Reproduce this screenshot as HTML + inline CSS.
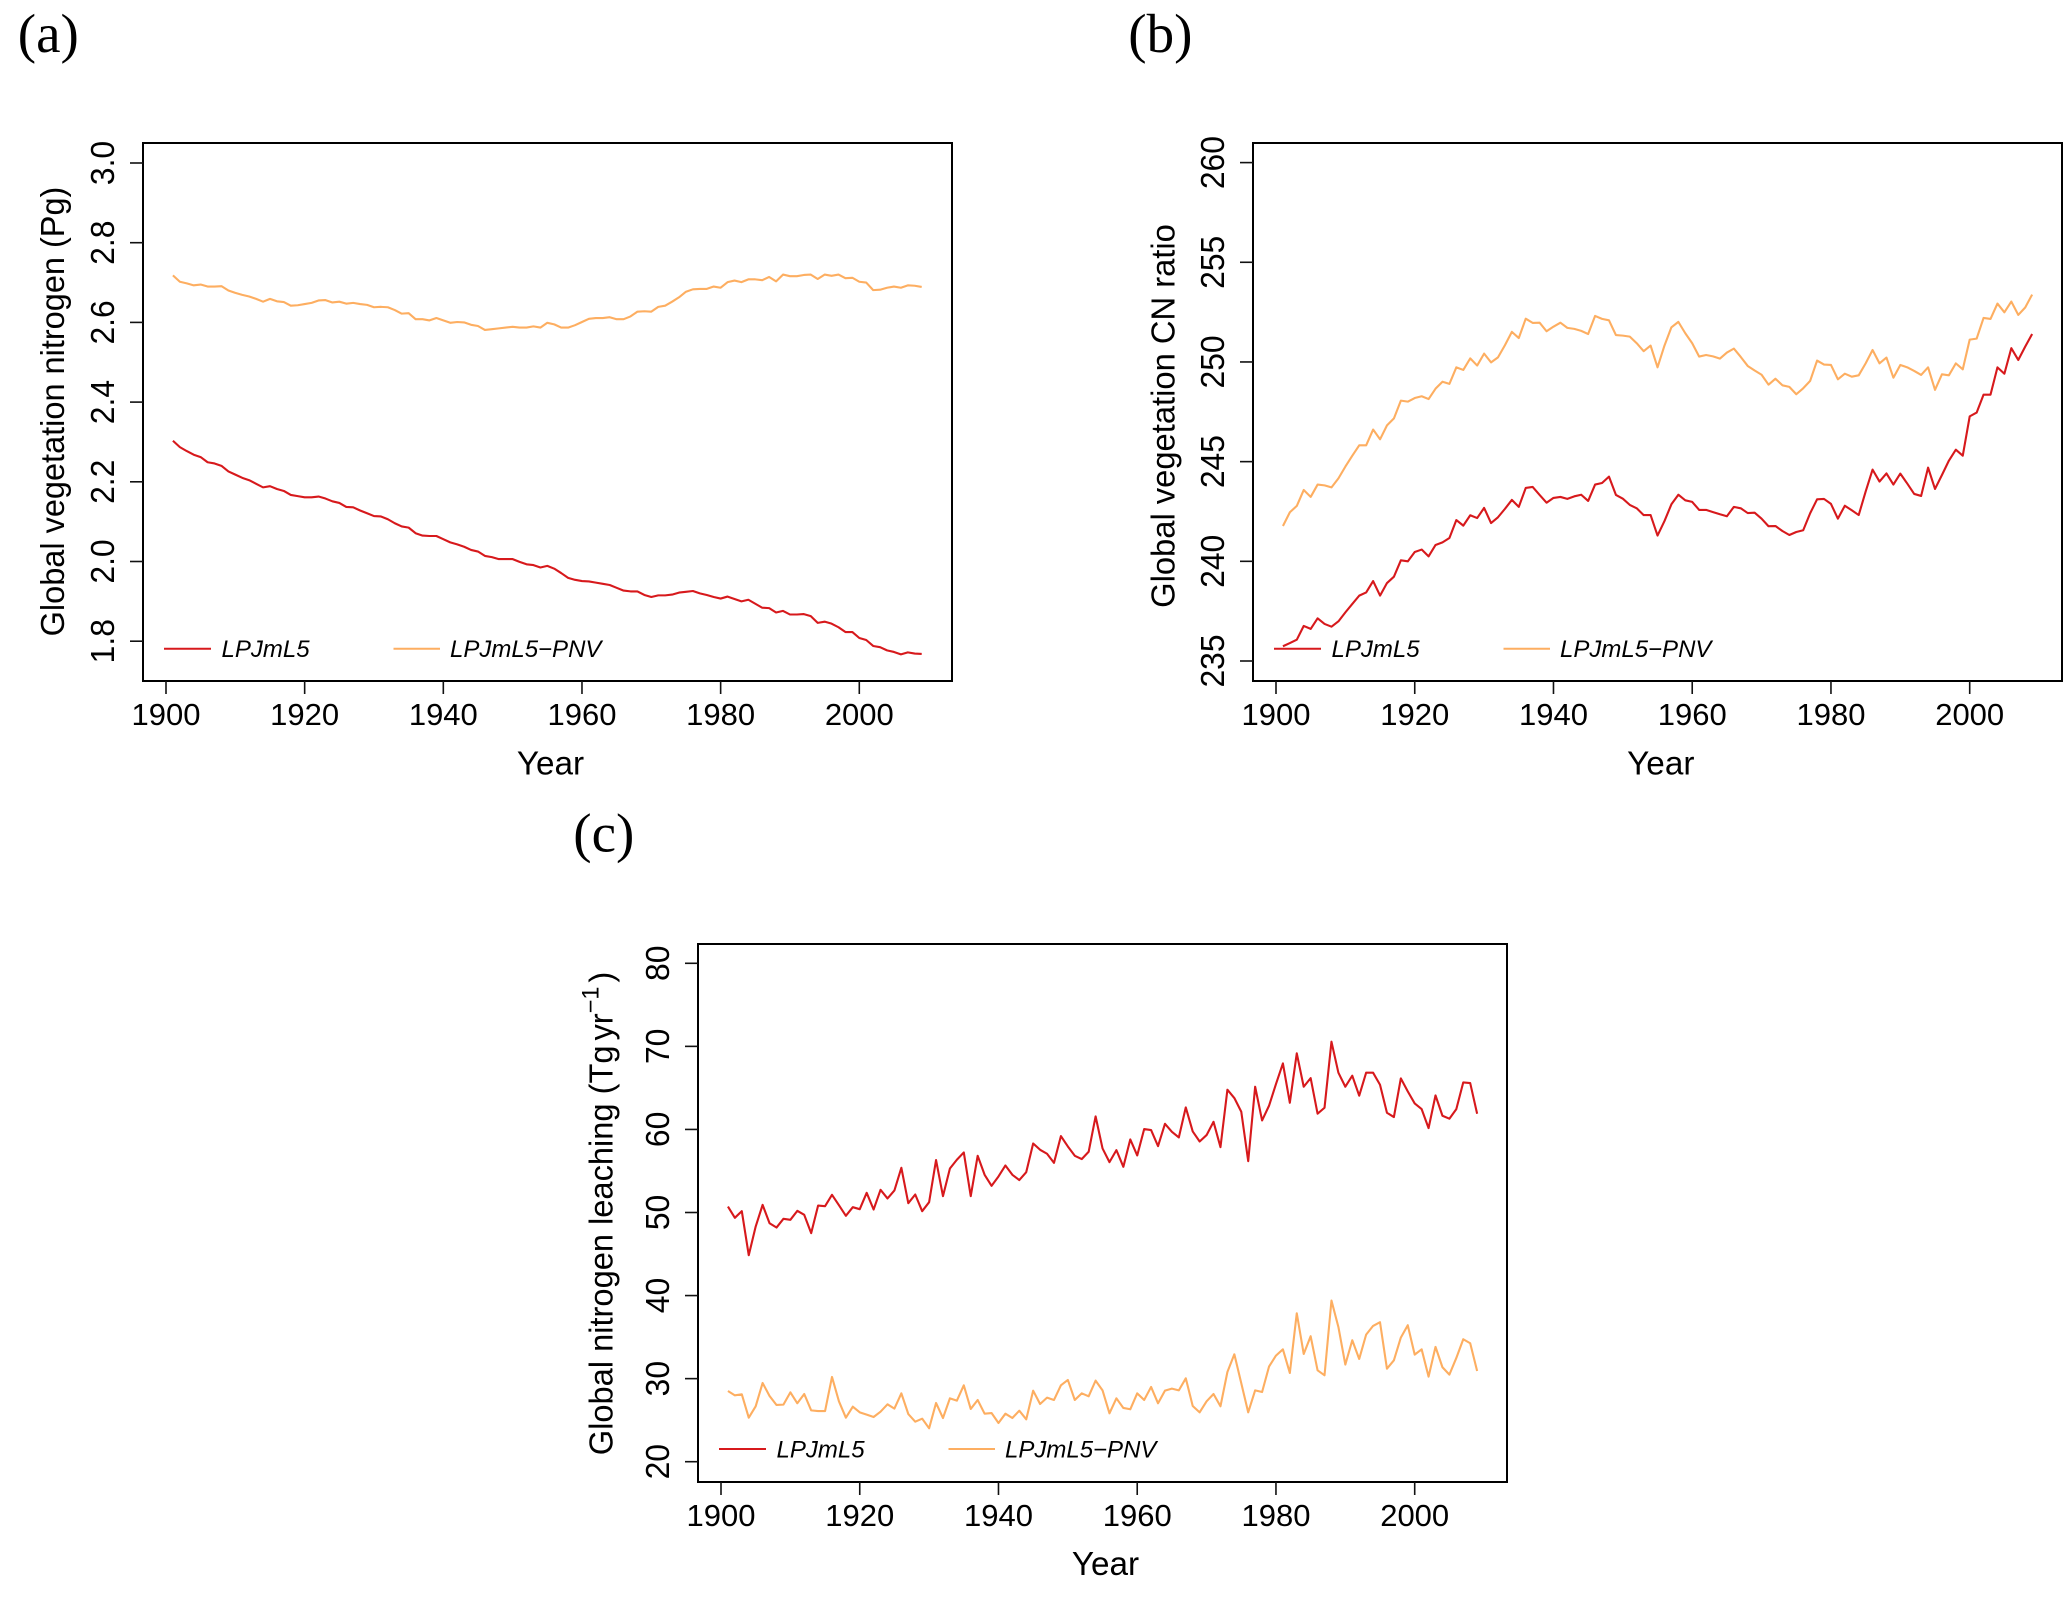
<!DOCTYPE html>
<html lang="en">
<head>
<meta charset="utf-8">
<title>Global vegetation nitrogen, CN ratio and nitrogen leaching</title>
<style>
  html, body { margin: 0; padding: 0; background: #ffffff; }
  svg { display: block; }
  text { font-family: "Liberation Sans", Arial, sans-serif; fill: #000000; }
  .tick-label { font-size: 31px; }
  .y-tick-label { font-size: 33.5px; }
  .axis-title { font-size: 33.3px; }
  .legend-text { font-size: 24px; font-style: italic; }
  .panel-label { font-family: "Liberation Serif", "Times New Roman", serif; font-size: 55px; }
  .frame { fill: none; stroke: #000000; stroke-width: 2; }
</style>
</head>
<body>
<svg id="figure" xmlns="http://www.w3.org/2000/svg" width="2066" height="1598" viewBox="0 0 2066 1598">
  <rect x="0" y="0" width="2066" height="1598" fill="#ffffff"/>

  <text class="panel-label" x="17.8" y="52">(a)</text>
  <text class="panel-label" x="1128.3" y="52">(b)</text>
  <text class="panel-label" x="573.3" y="851.5">(c)</text>

  <g id="panel-a">
    <rect class="frame" x="143" y="143" width="809" height="538"/>
    <text class="axis-title" x="550.5" y="774.3" text-anchor="middle">Year</text>
    <text class="axis-title" text-anchor="middle" transform="translate(64 411.5) rotate(-90) scale(0.976 1)">Global vegetation nitrogen (Pg)</text>
    <line x1="164" x2="211" y1="648.7" y2="648.7" stroke="#d7191c" stroke-width="2"/>
    <text class="legend-text" x="221.5" y="657">LPJmL5</text>
    <line x1="393.5" x2="440" y1="648.7" y2="648.7" stroke="#fdae61" stroke-width="2"/>
    <text class="legend-text" x="450" y="657">LPJmL5−PNV</text>
  </g>

  <g id="panel-b">
    <rect class="frame" x="1253" y="143" width="809" height="538"/>
    <text class="axis-title" x="1660.8" y="774.3" text-anchor="middle">Year</text>
    <text class="axis-title" text-anchor="middle" transform="translate(1174.3 416) rotate(-90) scale(0.983 1)">Global vegetation CN ratio</text>
    <line x1="1274" x2="1321" y1="648.7" y2="648.7" stroke="#d7191c" stroke-width="2"/>
    <text class="legend-text" x="1331.5" y="657">LPJmL5</text>
    <line x1="1503.5" x2="1550" y1="648.7" y2="648.7" stroke="#fdae61" stroke-width="2"/>
    <text class="legend-text" x="1560" y="657">LPJmL5−PNV</text>
  </g>

  <g id="panel-c">
    <rect class="frame" x="698" y="944" width="809" height="538"/>
    <text class="axis-title" x="1105.5" y="1575" text-anchor="middle">Year</text>
    <text class="axis-title" text-anchor="middle" transform="translate(612.7 1213.5) rotate(-90) scale(0.98 1)">Global nitrogen leaching (Tg<tspan dx="5">yr</tspan><tspan font-size="24" dy="-14">−1</tspan><tspan dy="14" dx="4">)</tspan></text>
    <line x1="719" x2="766" y1="1449" y2="1449" stroke="#d7191c" stroke-width="2"/>
    <text class="legend-text" x="776.5" y="1457.5">LPJmL5</text>
    <line x1="948.5" x2="995" y1="1449" y2="1449" stroke="#fdae61" stroke-width="2"/>
    <text class="legend-text" x="1005" y="1457.5">LPJmL5−PNV</text>
  </g>
</svg>

<script>
const years = [
  1901,1902,1903,1904,1905,1906,1907,1908,1909,1910,
  1911,1912,1913,1914,1915,1916,1917,1918,1919,1920,
  1921,1922,1923,1924,1925,1926,1927,1928,1929,1930,
  1931,1932,1933,1934,1935,1936,1937,1938,1939,1940,
  1941,1942,1943,1944,1945,1946,1947,1948,1949,1950,
  1951,1952,1953,1954,1955,1956,1957,1958,1959,1960,
  1961,1962,1963,1964,1965,1966,1967,1968,1969,1970,
  1971,1972,1973,1974,1975,1976,1977,1978,1979,1980,
  1981,1982,1983,1984,1985,1986,1987,1988,1989,1990,
  1991,1992,1993,1994,1995,1996,1997,1998,1999,2000,
  2001,2002,2003,2004,2005,2006,2007,2008,2009
];
const xTicks = [1900, 1920, 1940, 1960, 1980, 2000];

const nitrogenTicks = ["1.8", "2.0", "2.2", "2.4", "2.6", "2.8", "3.0"];
const nitrogenLpjml5 = [
  2.303,2.287,2.277,2.268,2.262,2.249,2.246,2.240,2.226,2.218,
  2.210,2.204,2.195,2.186,2.189,2.182,2.177,2.167,2.164,2.161,
  2.161,2.163,2.158,2.151,2.147,2.137,2.136,2.128,2.121,2.114,
  2.113,2.106,2.096,2.088,2.085,2.071,2.065,2.064,2.064,2.056,
  2.048,2.043,2.037,2.029,2.025,2.014,2.011,2.006,2.006,2.006,
  1.999,1.993,1.991,1.985,1.989,1.982,1.971,1.959,1.954,1.951,
  1.950,1.947,1.944,1.941,1.934,1.927,1.925,1.925,1.916,1.911,
  1.915,1.915,1.917,1.922,1.924,1.926,1.920,1.916,1.911,1.907,
  1.912,1.906,1.900,1.904,1.894,1.884,1.883,1.872,1.876,1.867,
  1.867,1.868,1.863,1.846,1.849,1.844,1.835,1.823,1.823,1.808,
  1.803,1.788,1.785,1.777,1.773,1.767,1.772,1.769,1.768
];
const nitrogenPnv = [
  2.718,2.702,2.698,2.693,2.695,2.690,2.690,2.691,2.680,2.674,
  2.669,2.665,2.659,2.652,2.659,2.653,2.651,2.642,2.643,2.646,
  2.649,2.655,2.656,2.650,2.652,2.647,2.649,2.646,2.644,2.638,
  2.639,2.638,2.631,2.622,2.623,2.608,2.608,2.605,2.611,2.605,
  2.599,2.601,2.600,2.594,2.591,2.581,2.583,2.585,2.587,2.589,
  2.587,2.587,2.590,2.587,2.599,2.595,2.587,2.587,2.593,2.601,
  2.609,2.611,2.611,2.613,2.608,2.608,2.615,2.627,2.628,2.627,
  2.639,2.642,2.652,2.663,2.677,2.683,2.684,2.684,2.690,2.687,
  2.701,2.705,2.701,2.708,2.708,2.706,2.714,2.703,2.720,2.716,
  2.716,2.719,2.720,2.709,2.720,2.717,2.720,2.711,2.712,2.702,
  2.700,2.681,2.682,2.687,2.690,2.687,2.693,2.692,2.689
];

const cnTicks = ["235", "240", "245", "250", "255", "260"];
const cnLpjml5 = [
  235.74,235.90,236.07,236.76,236.61,237.14,236.86,236.72,236.99,237.44,
  237.86,238.28,238.44,239.01,238.28,238.91,239.23,240.05,240.00,240.47,
  240.59,240.25,240.82,240.95,241.17,242.07,241.79,242.31,242.17,242.68,
  241.92,242.21,242.63,243.08,242.73,243.68,243.73,243.33,242.94,243.18,
  243.23,243.13,243.26,243.34,243.03,243.85,243.93,244.25,243.33,243.14,
  242.83,242.66,242.32,242.32,241.29,242.02,242.86,243.34,243.06,242.98,
  242.58,242.58,242.47,242.36,242.26,242.73,242.66,242.42,242.44,242.14,
  241.76,241.77,241.52,241.32,241.47,241.56,242.41,243.11,243.13,242.88,
  242.14,242.79,242.56,242.32,243.50,244.60,244.00,244.41,243.85,244.40,
  243.90,243.38,243.28,244.70,243.63,244.33,245.05,245.60,245.30,247.27,
  247.46,248.36,248.36,249.73,249.41,250.69,250.10,250.77,251.40
];
const cnPnv = [
  241.77,242.46,242.78,243.58,243.23,243.85,243.81,243.71,244.16,244.75,
  245.30,245.82,245.82,246.61,246.12,246.82,247.17,248.06,248.01,248.19,
  248.28,248.14,248.66,249.01,248.90,249.73,249.60,250.18,249.82,250.42,
  249.98,250.23,250.84,251.51,251.20,252.17,251.96,251.97,251.54,251.77,
  251.97,251.71,251.66,251.56,251.40,252.31,252.16,252.09,251.35,251.32,
  251.27,250.94,250.54,250.82,249.73,250.82,251.74,252.01,251.44,250.94,
  250.27,250.35,250.28,250.17,250.47,250.67,250.25,249.80,249.57,249.36,
  248.86,249.16,248.83,248.75,248.38,248.68,249.05,250.07,249.87,249.85,
  249.13,249.41,249.26,249.33,249.93,250.60,249.93,250.22,249.21,249.85,
  249.73,249.55,249.35,249.73,248.60,249.38,249.33,249.93,249.63,251.12,
  251.17,252.21,252.16,252.93,252.49,253.03,252.36,252.73,253.38
];

const leachingTicks = ["20", "30", "40", "50", "60", "70", "80"];
const leachingLpjml5 = [
  50.72,49.36,50.16,44.86,48.31,50.92,48.71,48.19,49.24,49.12,
  50.20,49.72,47.51,50.84,50.76,52.13,50.88,49.60,50.64,50.40,
  52.37,50.36,52.73,51.69,52.65,55.38,51.12,52.17,50.16,51.24,
  56.31,51.97,55.30,56.35,57.23,51.97,56.83,54.54,53.21,54.34,
  55.66,54.54,53.90,54.86,58.31,57.55,57.07,55.98,59.20,57.95,
  56.83,56.43,57.31,61.57,57.71,56.06,57.51,55.50,58.80,56.87,
  60.04,59.92,57.99,60.68,59.72,59.04,62.65,59.76,58.55,59.32,
  60.92,57.87,64.78,63.78,62.13,56.18,65.14,61.08,62.85,65.46,
  67.95,63.21,69.16,65.14,66.18,61.89,62.61,70.56,66.83,65.14,
  66.47,64.06,66.83,66.83,65.38,62.01,61.49,66.14,64.58,63.13,
  62.45,60.16,64.10,61.65,61.29,62.45,65.66,65.58,61.89
];
const leachingPnv = [
  28.51,27.99,28.11,25.30,26.67,29.48,27.91,26.83,26.87,28.35,
  27.03,28.15,26.18,26.10,26.10,30.20,27.27,25.30,26.63,25.94,
  25.66,25.38,26.02,26.91,26.39,28.23,25.74,24.82,25.18,24.02,
  27.07,25.26,27.63,27.35,29.20,26.35,27.43,25.78,25.86,24.66,
  25.78,25.26,26.14,25.10,28.55,26.95,27.71,27.43,29.20,29.84,
  27.43,28.23,27.87,29.76,28.59,25.82,27.63,26.47,26.31,28.23,
  27.43,29.00,27.03,28.55,28.80,28.59,30.04,26.71,25.94,27.27,
  28.15,26.67,30.80,32.93,29.44,25.94,28.59,28.39,31.45,32.77,
  33.53,30.68,37.87,32.97,35.10,31.00,30.40,39.40,36.22,31.69,
  34.62,32.37,35.30,36.35,36.79,31.20,32.21,34.94,36.43,32.89,
  33.53,30.24,33.82,31.37,30.48,32.49,34.74,34.26,30.92
];

const SVG_NS = "http://www.w3.org/2000/svg";

function linearScale(d0, d1, r0, r1) {
  return function (v) { return r0 + (Number(v) - d0) * (r1 - r0) / (d1 - d0); };
}

function drawPanel(opts) {
  const group = document.getElementById(opts.id);
  const xScale = linearScale(1900, 2000, opts.x1900, opts.x2000);
  const yScale = linearScale(opts.yDomain[0], opts.yDomain[1], opts.yRange[0], opts.yRange[1]);

  xTicks.forEach(function (t) {
    const mark = document.createElementNS(SVG_NS, "line");
    
    
    mark.setAttribute("x1", xScale(t));
    mark.setAttribute("x2", xScale(t));
    mark.setAttribute("y1", opts.bottom);
    mark.setAttribute("y2", opts.bottom + 13);
    mark.setAttribute("stroke", "#111111");
    mark.setAttribute("stroke-width", "1.6");
    group.appendChild(mark);

    const label = document.createElementNS(SVG_NS, "text");
    
    
    label.setAttribute("class", "tick-label");
    label.setAttribute("x", xScale(t));
    label.setAttribute("y", opts.bottom + 44);
    label.setAttribute("text-anchor", "middle");
    label.textContent = String(t);
    group.appendChild(label);
  });

  opts.yTicks.forEach(function (t) {
    const mark = document.createElementNS(SVG_NS, "line");
    
    
    mark.setAttribute("x1", opts.left);
    mark.setAttribute("x2", opts.left - 13);
    mark.setAttribute("y1", yScale(t));
    mark.setAttribute("y2", yScale(t));
    mark.setAttribute("stroke", "#111111");
    mark.setAttribute("stroke-width", "1.6");
    group.appendChild(mark);

    const label = document.createElementNS(SVG_NS, "text");
    
    
    label.setAttribute("class", "y-tick-label");
    label.setAttribute("text-anchor", "middle");
    label.setAttribute("transform", "translate(" + (opts.left - 29) + " " + yScale(t) + ") rotate(-90) scale(0.95 1)");
    label.textContent = t;
    group.appendChild(label);
  });

  opts.series.forEach(function (s) {
    const line = document.createElementNS(SVG_NS, "polyline");
    
    
    line.setAttribute("fill", "none");
    line.setAttribute("stroke", s.color);
    line.setAttribute("stroke-width", "2.1");
    line.setAttribute("stroke-linejoin", "round");
    line.setAttribute("points", s.values.map(function (v, i) {
      return xScale(years[i]).toFixed(2) + "," + yScale(v).toFixed(2);
    }).join(" "));
    group.appendChild(line);
  });
}

drawPanel({
  id: "panel-a", left: 143, bottom: 681, x1900: 166, x2000: 859.3,
  yDomain: [1.8, 3.0], yRange: [641.2, 163], yTicks: nitrogenTicks,
  series: [
    { name: "line-lpjml5-nitrogen", color: "#d7191c", values: nitrogenLpjml5 },
    { name: "line-pnv-nitrogen", color: "#fdae61", values: nitrogenPnv }
  ]
});
drawPanel({
  id: "panel-b", left: 1253, bottom: 681, x1900: 1276, x2000: 1969.7,
  yDomain: [235, 260], yRange: [661, 162.6], yTicks: cnTicks,
  series: [
    { name: "line-lpjml5-cn-ratio", color: "#d7191c", values: cnLpjml5 },
    { name: "line-pnv-cn-ratio", color: "#fdae61", values: cnPnv }
  ]
});
drawPanel({
  id: "panel-c", left: 698, bottom: 1482, x1900: 721, x2000: 1414.7,
  yDomain: [20, 80], yRange: [1461.7, 963.3], yTicks: leachingTicks,
  series: [
    { name: "line-lpjml5-leaching", color: "#d7191c", values: leachingLpjml5 },
    { name: "line-pnv-leaching", color: "#fdae61", values: leachingPnv }
  ]
});
</script>
</body>
</html>
